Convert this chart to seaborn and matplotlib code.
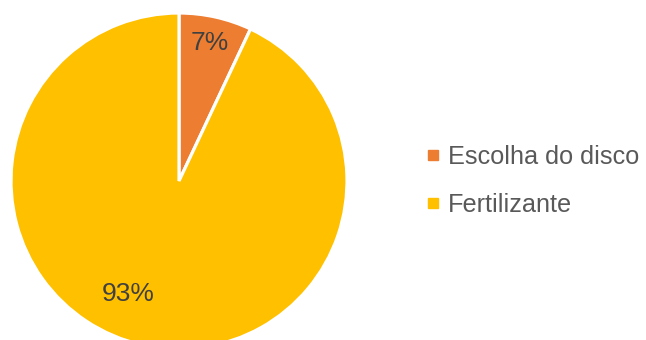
import matplotlib
matplotlib.use("Agg")
import matplotlib.pyplot as plt
from matplotlib.lines import Line2D
import seaborn as sns

categories = ["Escolha do disco", "Fertilizante"]
shares = [7, 93]
colors = ["#ED7D31", "#FFC000"]

sns.set_theme(style="white")
plt.rcParams["font.family"] = ["Liberation Sans", "DejaVu Sans"]

W, H = 646, 340
fig = plt.figure(figsize=(W / 100, H / 100), dpi=100)

# pie centre and radius in pixels
cx, cy, r = 179, 181, 168
ax = fig.add_axes([(cx - r) / W, (H - cy - r) / H, 2 * r / W, 2 * r / H])

wedges, texts, autotexts = ax.pie(
    shares,
    colors=sns.color_palette(colors),
    startangle=90,
    counterclock=False,
    autopct="%d%%",
    pctdistance=0.84,
    wedgeprops=dict(edgecolor="white", linewidth=2.3),
    textprops=dict(color="#404040", fontsize=19),
)
ax.set_xlim(-1, 1)
ax.set_ylim(-1, 1)
ax.set_aspect("equal")
ax.axis("off")
autotexts[1].set_position((-0.30, -0.67))

handles = [
    Line2D([0], [0], marker="s", linestyle="none", markersize=7,
           markerfacecolor=c, markeredgecolor=c)
    for c in colors
]
fig.legend(
    handles, categories,
    loc="center left", bbox_to_anchor=(425 / W, 1 - 181 / H),
    frameon=False, fontsize=18.2, labelcolor="#595959",
    handlelength=0.6, handletextpad=0.3, labelspacing=0.95,
    borderpad=0, borderaxespad=0,
)

fig.savefig("out.png", dpi=100)
